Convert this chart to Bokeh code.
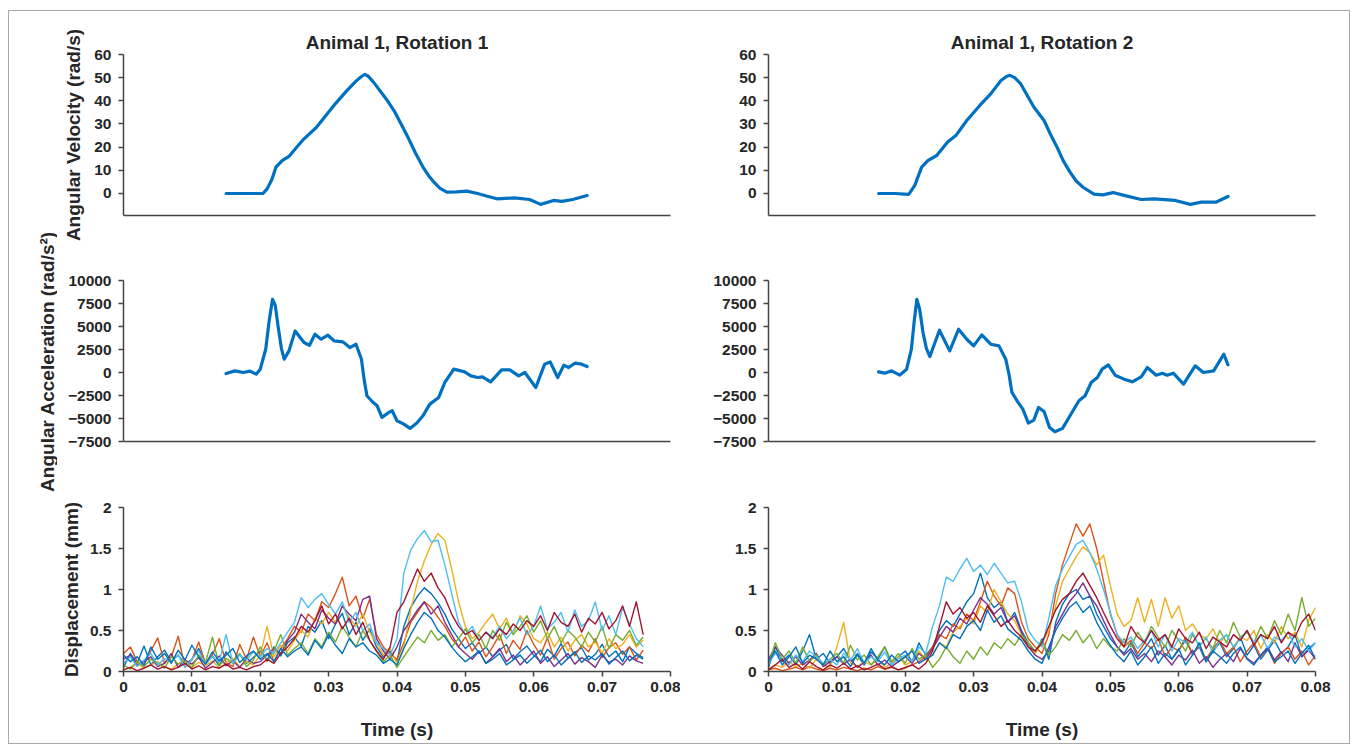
import math
from bokeh.plotting import figure
from bokeh.layouts import row, column
from bokeh.models import FixedTicker, Range1d, Label, NumeralTickFormatter
from bokeh.embed import file_html
from bokeh.resources import INLINE

# ---------------- data ----------------
titles = ["Animal 1, Rotation 1", "Animal 1, Rotation 2"]
y_labels = ["Angular Velocity (rad/s)", "Angular Acceleration (rad/s²)", "Displacement (mm)"]
x_label = "Time (s)"

vel1_t = [0.0150, 0.0175, 0.0204, 0.0210, 0.0217, 0.0223, 0.0232, 0.0242, 0.0252, 0.0264, 0.0282, 0.0296,
          0.0310, 0.0327, 0.0340, 0.0348, 0.0353, 0.0358, 0.0365, 0.0372, 0.0385, 0.0397, 0.0406, 0.0416,
          0.0427, 0.0438, 0.0446, 0.0454, 0.0463, 0.0473, 0.0487, 0.0502, 0.0518, 0.0532, 0.0546, 0.0572,
          0.0594, 0.0610, 0.0629, 0.0641, 0.0657, 0.0678]
vel1_v = [0, 0, 0, 2, 6, 11.4, 14.2, 16, 19.5, 23.6, 28.5, 33.7,
          38.8, 44.5, 48.5, 50.5, 51.4, 50.6, 48.3, 45.6, 40.5, 35.1, 30, 24.3,
          17.5, 11.4, 7.8, 4.9, 2.2, 0.6, 0.7, 1.0, 0, -1.2, -2.3, -1.9,
          -2.6, -4.7, -3, -3.4, -2.6, -0.9]

vel2_t = [0.0161, 0.0185, 0.0205, 0.0214, 0.0219, 0.0224, 0.0233, 0.0246, 0.0262, 0.0274, 0.0290, 0.0309,
          0.0325, 0.0340, 0.0348, 0.0353, 0.0360, 0.0369, 0.0388, 0.0403, 0.0412, 0.0422, 0.0431, 0.0441,
          0.0450, 0.0460, 0.0476, 0.0489, 0.0504, 0.0520, 0.0545, 0.0564, 0.0595, 0.0617, 0.0633, 0.0655,
          0.0672]
vel2_v = [0, 0, -0.4, 3.5, 7.5, 11.4, 14.2, 16.4, 22.2, 25, 31.5, 38,
          43, 48.8, 50.5, 51, 50, 47.3, 37.3, 31.5, 25.8, 20, 14.2, 9.2,
          5.4, 2.7, -0.3, -0.6, 0.4, -0.8, -2.6, -2.3, -3, -4.7, -3.7, -3.7,
          -1.3]

acc1_t = [0.0150, 0.0163, 0.0175, 0.0185, 0.0194, 0.0200, 0.0208, 0.0213, 0.0218, 0.0222, 0.0226, 0.0231,
          0.0235, 0.0242, 0.0251, 0.0264, 0.0272, 0.0280, 0.0289, 0.0299, 0.0308, 0.0321, 0.0331, 0.0340,
          0.0348, 0.0352, 0.0356, 0.0364, 0.0371, 0.0378, 0.0388, 0.0393, 0.0400, 0.0410, 0.0419, 0.0429,
          0.0438, 0.0448, 0.0461, 0.0470, 0.0483, 0.0499, 0.0508, 0.0518, 0.0525, 0.0537, 0.0553, 0.0565,
          0.0578, 0.0587, 0.0603, 0.0616, 0.0624, 0.0635, 0.0644, 0.0651, 0.0660, 0.0670, 0.0678]
acc1_v = [-108, 180, 0, 145, -180, 360, 2530, 5600, 7955, 7300, 5060, 2600,
          1446, 2350, 4520, 3254, 2965, 4158, 3616, 4050, 3435, 3327, 2712, 3073,
          1446, -800, -2531, -3182, -3616, -4882, -4339, -4158, -5243, -5605, -6075, -5496,
          -4700, -3435, -2712, -1085, 361, 72, -361, -542, -470, -1012, 289, 289,
          -361, 0, -1627, 904, 1157, -542, 795, 542, 1012, 904, 650]

acc2_t = [0.0161, 0.0170, 0.0180, 0.0192, 0.0202, 0.0209, 0.0213, 0.0217, 0.0221, 0.0226, 0.0231, 0.0236,
          0.0250, 0.0265, 0.0278, 0.0290, 0.0300, 0.0312, 0.0325, 0.0337, 0.0347, 0.0352, 0.0356, 0.0365,
          0.0372, 0.0380, 0.0388, 0.0395, 0.0403, 0.0411, 0.0419, 0.0430, 0.0441, 0.0454, 0.0463, 0.0472,
          0.0481, 0.0488, 0.0497, 0.0507, 0.0520, 0.0532, 0.0545, 0.0554, 0.0567, 0.0576, 0.0583, 0.0592,
          0.0607, 0.0624, 0.0636, 0.0651, 0.0666, 0.0672]
acc2_v = [72, -72, 180, -290, 360, 2530, 5500, 7955, 6900, 4340, 2600, 1736,
          4592, 2350, 4700, 3616, 2893, 4086, 3073, 2893, 1446, -300, -2170, -3254,
          -3978, -5496, -5171, -3797, -4231, -5966, -6437, -6075, -4700, -3073, -2531, -1085,
          -542, 362, 832, -290, -723, -1012, -470, 542, -290, -72, -290, -72,
          -1266, 723, 0, 180, 1989, 832]

# displacement traces, sampled every 1 ms
disp1_t = [round(i * 0.001, 3) for i in range(77)]
disp2_t = [round(i * 0.001, 3) for i in range(81)]

d1_blue = [.05, .22, .10, .31, .08, .18, .26, .12, .20, .09, .15, .28, .11, .19, .07, .24, .13, .21, .10, .17,
           .25, .14, .30, .19, .35,
           .42, .31, .55, .48, .62, .40, .58, .71, .45, .60, .38, .52,
           .30, .18, .25, .12,
           .55, .78, .92, 1.02, .95, .84, .70, .52,
           .40, .28, .35, .22, .30, .18, .26, .33, .15, .24, .31, .20, .12, .27, .19, .34, .16, .23, .29, .14,
           .21, .33, .18, .25, .12, .30, .22, .17]
d1_orange = [.22, .30, .12, .08, .25, .41, .10, .18, .43, .05, .14, .36, .09, .20, .40, .11, .06, .33, .15, .42,
             .18, .35, .12, .28, .40,
             .55, .48, .70, .62, .85, .78, .95, 1.15, .80, .92, .65, .88,
             .45, .30, .22, .15,
             .35, .60, .72, .85, .78, .66, .55, .40,
             .30, .42, .25, .36, .18, .30, .45, .22, .38, .27, .50, .33, .20, .41, .15, .28, .36, .19, .32, .24,
             .40, .17, .29, .35, .21, .30, .14, .26]
d1_yellow = [.02, .05, .10, .04, .08, .12, .06, .03, .09, .15, .05, .11, .07, .13, .04, .10, .16, .06, .12, .08,
             .20, .55, .18, .32, .25,
             .38, .50, .42, .65, .58, .72, .60, .80, .66, .55, .70, .48,
             .35, .20, .28, .10,
             .30, .75, 1.10, 1.35, 1.55, 1.68, 1.60, 1.25,
             .85, .55, .40, .48, .60, .70, .52, .65, .45, .68, .58, .40, .35, .48, .30, .42, .25, .38, .45, .30,
             .36, .22, .40, .28, .33, .45, .30, .38]
d1_purple = [.15, .20, .08, .12, .18, .06, .10, .22, .05, .14, .09, .17, .04, .11, .19, .07, .13, .05, .16, .10,
             .12, .20, .28, .22, .38,
             .48, .70, .60, .52, .75, .65, .58, .80, .70, .62, .88, .92,
             .40, .25, .15, .30,
             .50, .62, .75, .85, .70, .80, .60, .45,
             .30, .22, .15, .25, .10, .18, .28, .12, .20, .08, .16, .25, .10, .18, .06, .14, .22, .09, .17, .12,
             .05, .20, .11, .15, .08, .19, .13, .10]
d1_green = [.08, .03, .12, .06, .15, .10, .04, .18, .09, .13, .05, .20, .11, .42, .07, .16, .10, .22, .06, .14,
            .30, .12, .25, .45, .20,
            .28, .35, .22, .40, .30, .48, .36, .55, .42, .30, .50, .38,
            .25, .12, .20, .05,
            .18, .30, .42, .35, .50, .38, .45, .30,
            .40, .52, .35, .45, .28, .50, .38, .60, .45, .55, .68, .48, .62, .40, .55, .35, .50, .42, .30, .48,
            .36, .55, .28, .45, .38, .50, .32, .42]
d1_lightblue = [.10, .18, .06, .14, .22, .08, .16, .12, .20, .05, .15, .25, .09, .18, .12, .45, .10, .20, .14, .24,
                .18, .28, .22, .35, .48,
                .60, .90, .78, .88, .95, .82, .70, .85, .60, .72, .50, .58,
                .35, .28, .20, .40,
                1.20, 1.48, 1.62, 1.72, 1.58, 1.60, 1.30, .95,
                .60, .45, .55, .38, .48, .42, .55, .40, .50, .65, .45, .55, .80, .52, .60, .72, .48, .75, .55, .62,
                .85, .50, .68, .45, .78, .58, .40, .30]
d1_darkred = [.02, .05, .01, .04, .08, .03, .06, .02, .05, .10, .03, .07, .02, .06, .04, .09, .03, .05, .02, .06,
              .08, .15, .10, .22, .30,
              .40, .55, .48, .62, .80, .58, .70, .52, .65, .45, .60, .38,
              .25, .15, .30, .72,
              .85, 1.05, 1.25, 1.10, 1.20, 1.02, .90, .70,
              .55, .45, .50, .38, .48, .40, .52, .45, .58, .50, .62, .55, .68, .50, .72, .60, .55, .70, .48, .65,
              .58, .72, .52, .62, .80, .55, .85, .45]
d1_blue2 = [.20, .12, .18, .08, .30, .15, .22, .10, .26, .14, .32, .18, .09, .24, .13, .20, .28, .11, .19, .25,
            .15, .22, .12, .28, .18,
            .25, .30, .20, .38, .28, .45, .32, .22, .40, .30, .35, .25,
            .20, .10, .15, .08,
            .28, .45, .60, .72, .65, .50, .42, .30,
            .20, .12, .18, .25, .10, .15, .22, .08, .14, .20, .10, .18, .26, .12, .20, .08, .16, .24, .11, .19,
            .14, .22, .09, .17, .25, .13, .20, .15]

d2_blue = [.05, .30, .12, .20, .08, .25, .45, .15, .22, .10, .18, .28, .12, .20, .08, .24, .15, .30, .10, .18,
           .25, .12, .35, .20,
           .30, .50, .62, .55, .70, .85, .95, 1.20, .90, .78, .85, .60, .72, .50,
           .35, .22, .40, .15,
           .60, .82, .95, 1.00, .88, .92, .70, .55, .40,
           .30, .22, .35, .18, .28, .40, .20, .32, .15, .26, .38, .22, .30, .12, .25, .35, .18, .28, .42, .20,
           .32, .15, .26, .38, .22, .30, .45, .18, .28, .35]
d2_orange = [.02, .04, .01, .03, .05, .02, .06, .03, .01, .04, .02, .05, .03, .01, .04, .02, .06, .03, .05, .02,
             .04, .08, .12, .18,
             .30, .45, .40, .58, .52, .70, .62, .85, 1.10, .92, .80, 1.02, .95, .60,
             .40, .30, .22, .45,
             .95, 1.30, 1.55, 1.80, 1.65, 1.80, 1.50, 1.10, .70,
             .45, .30, .38, .22, .35, .28, .40, .18, .30, .25, .42, .20, .32, .15, .28, .38, .22, .30, .12, .25,
             .35, .18, .28, .10, .22, .30, .15, .25, .08, .20]
d2_yellow = [.03, .08, .05, .12, .06, .10, .04, .15, .08, .05, .30, .60, .10, .06, .12, .08, .15, .05, .10, .18,
             .08, .12, .25, .15,
             .20, .35, .30, .48, .55, .65, .58, .80, .72, 1.00, .85, .70, .62, .45,
             .30, .22, .35, .50,
             .80, 1.10, 1.25, 1.40, 1.52, 1.45, 1.30, 1.42, 1.05,
             .70, .55, .62, .90, .60, .88, .55, .90, .65, .80, .50, .58, .45, .40, .52, .35, .45, .30, .42, .38,
             .50, .28, .45, .35, .55, .40, .48, .30, .62, .78]
d2_purple = [.15, .30, .20, .10, .18, .08, .14, .22, .06, .12, .18, .09, .15, .05, .11, .20, .08, .14, .06, .12,
             .18, .10, .22, .15,
             .28, .42, .55, .48, .65, .58, .75, .90, .82, .70, .78, .60, .68, .48,
             .30, .20, .15, .25,
             .55, .70, .85, .95, 1.08, .92, .80, .62, .45,
             .30, .20, .28, .15, .22, .12, .25, .18, .08, .20, .14, .26, .10, .18, .05, .15, .22, .12, .28, .16,
             .10, .20, .30, .14, .24, .12, .35, .18, .26, .15]
d2_green = [.08, .35, .15, .25, .10, .30, .12, .20, .08, .15, .22, .10, .32, .14, .20, .08, .18, .30, .12, .22,
            .10, .28, .15, .20,
            .05, .15, .30, .18, .10, .25, .15, .30, .20, .35, .28, .40, .32, .45,
            .35, .25, .38, .20,
            .30, .45, .38, .50, .35, .45, .28, .40, .30,
            .25, .40, .30, .48, .35, .55, .42, .30, .50, .38, .25, .45, .32, .40, .28, .50, .35, .60, .42, .48,
            .35, .55, .40, .62, .45, .70, .50, .90, .55, .65]
d2_lightblue = [.10, .22, .15, .08, .20, .12, .25, .18, .10, .15, .08, .22, .14, .28, .10, .18, .12, .24, .08, .16,
                .20, .12, .30, .22,
                .55, .80, 1.15, 1.10, 1.25, 1.38, 1.22, 1.30, 1.18, 1.32, 1.20, 1.08, 1.10, .85,
                .50, .38, .30, .65,
                1.05, 1.25, 1.40, 1.55, 1.60, 1.45, 1.25, 1.00, .72,
                .45, .35, .42, .28, .38, .50, .30, .45, .25, .40, .35, .48, .30, .42, .22, .38, .45, .30, .40, .50,
                .35, .45, .28, .42, .38, .48, .30, .40, .25, .35]
d2_darkred = [.02, .08, .15, .05, .10, .03, .12, .06, .02, .08, .04, .10, .03, .07, .02, .05, .09, .03, .06, .02,
              .05, .08, .03, .10,
              .25, .55, .85, .70, .78, .65, .72, .60, .80, .68, .55, .62, .50, .42,
              .30, .25, .35, .55,
              .75, .88, .95, 1.10, 1.20, 1.05, .90, .72, .55,
              .40, .30, .55, .42, .35, .50, .38, .45, .30, .52, .40, .35, .48, .28, .42, .36, .30, .45, .38, .50,
              .32, .45, .40, .55, .35, .48, .42, .60, .70, .50]
d2_blue2 = [.12, .25, .08, .18, .30, .10, .20, .15, .08, .25, .12, .18, .06, .22, .10, .28, .14, .08, .20, .12,
            .18, .25, .10, .15,
            .20, .35, .28, .45, .40, .55, .62, .50, .75, .60, .68, .52, .45, .38,
            .25, .15, .10, .30,
            .50, .65, .78, .85, .72, .80, .60, .45, .32,
            .20, .12, .25, .08, .18, .30, .10, .22, .15, .28, .08, .20, .35, .12, .25, .18, .10, .22, .30, .15,
            .08, .20, .28, .12, .18, .25, .10, .22, .32, .15]

trace_colors = ["#0072BD", "#D95319", "#EDB120", "#7E2F8E", "#77AC30", "#4DBEEE", "#A2142F", "#0072BD"]
disp1 = [d1_blue, d1_orange, d1_yellow, d1_purple, d1_green, d1_lightblue, d1_darkred, d1_blue2]
disp2 = [d2_blue, d2_orange, d2_yellow, d2_purple, d2_green, d2_lightblue, d2_darkred, d2_blue2]

vel_ticks = [0, 10, 20, 30, 40, 50, 60]
acc_ticks = [-7500, -5000, -2500, 0, 2500, 5000, 7500, 10000]
disp_ticks = [0, 0.5, 1, 1.5, 2]
time_ticks = [0, 0.01, 0.02, 0.03, 0.04, 0.05, 0.06, 0.07, 0.08]

# ---------------- style ----------------
FONT = "Liberation Sans"
TXT = "#262626"
AX = "#444444"
BLUE = "#0070C0"
TOP_H, MID_H, BOT_H = 239, 220, 273
H = TOP_H + MID_H + BOT_H
STRIP_W = 48


def make_fig(w, h, bl, br, bt, bb, yr, yticks, title=None, time_axis=False):
    p = figure(width=w, height=h, x_range=Range1d(0, 0.08), y_range=Range1d(*yr),
               output_backend="svg", toolbar_location=None,
               min_border_left=bl, min_border_right=br, min_border_top=bt, min_border_bottom=bb)
    p.outline_line_color = None
    p.grid.visible = False
    for ax in p.axis:
        ax.axis_line_color = AX
        ax.axis_line_width = 1.5
        ax.major_tick_line_color = AX
        ax.major_tick_line_width = 1.5
        ax.major_tick_out = 5
        ax.major_tick_in = 0
        ax.minor_tick_line_color = None
        ax.major_label_text_font = FONT
        ax.major_label_text_font_style = "bold"
        ax.major_label_text_font_size = "15.5px"
        ax.major_label_text_color = TXT
        ax.axis_label_text_font = FONT
        ax.axis_label_text_font_style = "bold"
        ax.axis_label_text_font_size = "19px"
        ax.axis_label_text_color = TXT
    p.yaxis.ticker = FixedTicker(ticks=yticks)
    p.yaxis.major_label_standoff = 7
    if time_axis:
        p.xaxis.ticker = FixedTicker(ticks=time_ticks)
        p.xaxis.formatter = NumeralTickFormatter(format="0.[00]")
        p.xaxis.major_label_standoff = 5
        p.xaxis.axis_label = x_label
        p.xaxis.axis_label_standoff = 24
    else:
        p.xaxis.ticker = FixedTicker(ticks=[])
        p.xaxis.major_tick_line_color = None
    if title:
        p.title.text = title
        p.title.text_font = FONT
        p.title.text_font_style = "bold"
        p.title.text_font_size = "19px"
        p.title.text_color = TXT
        p.title.align = "center"
        p.title.standoff = 4
    return p


cols = []
for k in range(2):
    if k == 0:
        bl, br = 66, 10
        w = 623
    else:
        bl, br = 88, 34
        w = 669
    top = make_fig(w, TOP_H, bl, br, 43, TOP_H - 43 - 161, (-9.5, 60), vel_ticks, title=titles[k])
    mid = make_fig(w, MID_H, bl, br, 30, MID_H - 30 - 161, (-7500, 10000), acc_ticks)
    bot = make_fig(w, BOT_H, bl, br, 37, BOT_H - 37 - 164, (0, 2), disp_ticks, time_axis=True)
    vt, vv = (vel1_t, vel1_v) if k == 0 else (vel2_t, vel2_v)
    at, av = (acc1_t, acc1_v) if k == 0 else (acc2_t, acc2_v)
    top.line(vt, vv, line_color=BLUE, line_width=3.2, line_join="round", line_cap="round")
    mid.line(at, av, line_color=BLUE, line_width=3.2, line_join="round", line_cap="round")
    dt = disp1_t if k == 0 else disp2_t
    traces = disp1 if k == 0 else disp2
    for tr, c in zip(traces, trace_colors):
        bot.line(dt, tr, line_color=c, line_width=1.4, line_join="round")
    if k == 0:
        top.yaxis.axis_label = y_labels[0]
        top.yaxis.axis_label_standoff = 7
        bot.yaxis.axis_label = y_labels[2]
        bot.yaxis.axis_label_standoff = 5
    cols.append(column(top, mid, bot))

strip = figure(width=STRIP_W, height=H, x_range=Range1d(0, 1), y_range=Range1d(0, 1),
               output_backend="svg", toolbar_location=None, min_border=0,
               x_axis_location=None, y_axis_location=None)
strip.grid.visible = False
strip.outline_line_color = None
strip.add_layout(Label(x=38, y=H - 350, x_units="screen", y_units="screen",
                       text=y_labels[1], angle=math.pi / 2,
                       text_align="center", text_baseline="middle",
                       text_font=FONT, text_font_style="bold", text_font_size="19px",
                       text_color=TXT))

layout = row(strip, cols[0], cols[1],
             styles={"border": "1px solid #a8a8a8", "margin-left": "8px", "margin-top": "10px"})

open("out.html", "w").write(file_html(layout, INLINE))
